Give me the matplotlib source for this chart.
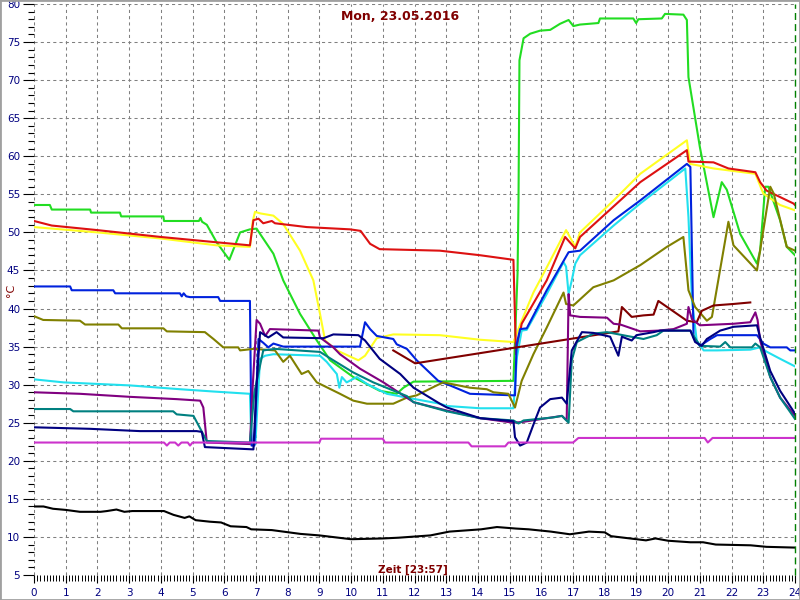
import matplotlib
matplotlib.use("Agg")
import matplotlib.pyplot as plt
from matplotlib.patches import Rectangle
from matplotlib.ticker import MultipleLocator

# hours of the day / temperatures in degC
black_x = [0, 0.3, 0.6, 1.0, 1.45, 2.1, 2.3, 2.6, 2.85, 3.1, 4.1, 4.4, 4.75, 4.9, 5.1, 5.55, 5.9, 6.2, 6.7, 6.85,
           7.5, 8.4, 9.0, 10.0, 11.0, 11.5, 12.5, 13.1, 14.1, 14.6, 15.2, 15.6, 16.3, 16.9, 17.5, 18.0, 18.2, 18.8,
           19.3, 19.6, 20.0, 20.7, 21.1, 21.5, 22.6, 23.1, 24.0]
black_y = [14.0, 14.0, 13.7, 13.55, 13.3, 13.3, 13.4, 13.6, 13.3, 13.4, 13.4, 12.9, 12.5, 12.7, 12.2, 12.0, 11.9,
           11.4, 11.3, 11.0, 10.9, 10.4, 10.2, 9.7, 9.8, 9.9, 10.2, 10.7, 11.0, 11.3, 11.1, 11.0, 10.7, 10.35, 10.7,
           10.6, 10.1, 9.8, 9.55, 9.8, 9.5, 9.3, 9.3, 9.0, 8.9, 8.7, 8.6]

magenta_x = [0, 4.1, 4.19, 4.28, 4.45, 4.55, 4.65, 4.85, 4.92, 5.0, 9.0, 9.05, 11.0, 11.07, 13.7, 13.8, 14.86,
             14.96, 17.0, 17.17, 21.15, 21.25, 21.4, 24]
magenta_y = [22.4, 22.4, 22.0, 22.4, 22.4, 22.0, 22.4, 22.4, 22.0, 22.4, 22.4, 22.9, 22.9, 22.4, 22.4, 21.9, 21.9,
             22.4, 22.4, 23.0, 23.0, 22.4, 23.0, 23.0]

red_x = [0, 0.56, 2.0, 4.0, 5.76, 6.81, 6.92, 7.08, 7.23, 7.5, 7.6, 8.6, 9.97, 10.3, 10.6, 10.9, 12.8, 14.07, 15.12,
         15.2, 15.38, 16.17, 16.75, 17.07, 17.22, 19.12, 20.59, 20.64, 21.43, 21.9, 22.75, 22.9, 23.1, 23.95, 24]
red_y = [51.5, 50.9, 50.3, 49.4, 48.7, 48.3, 51.6, 51.8, 51.2, 51.5, 51.2, 50.7, 50.4, 50.2, 48.5, 47.8, 47.6, 47.0,
         46.4, 34.0, 38.0, 43.7, 49.4, 47.9, 49.4, 56.6, 60.8, 59.3, 59.2, 58.4, 57.9, 56.6, 55.5, 53.8, 53.6]

yellow_x = [0, 2, 4, 5.76, 6.81, 6.9, 6.97, 7.13, 7.55, 7.86, 8.39, 8.81, 9.02, 9.18, 9.55, 10.23, 10.44, 10.81,
            11.33, 12.8, 14.07, 15.12, 15.38, 15.75, 16.17, 16.78, 17.07, 17.22, 18.28, 19.12, 20.59, 20.69, 21.43,
            22.75, 23.0, 23.53, 24]
yellow_y = [50.7, 50.0, 49.2, 48.3, 48.1, 51.5, 52.7, 52.5, 52.2, 51.1, 47.6, 43.7, 39.3, 35.8, 34.5, 33.2, 33.8,
            36.1, 36.6, 36.5, 35.9, 35.6, 38.4, 42.1, 45.4, 50.3, 48.1, 50.0, 54.2, 57.7, 62.1, 59.0, 58.4, 57.7,
            55.1, 53.6, 52.9]

green_x = [0, 0.5, 0.56, 1.77, 1.8, 2.71, 2.75, 4.08, 4.1, 5.2, 5.25, 5.3, 5.45, 5.76, 6.16, 6.5, 6.81, 7.02, 7.13,
           7.55, 7.86, 8.39, 8.92, 9.34, 10.07, 10.9, 11.44, 11.65, 11.97, 15.12, 15.25, 15.28, 15.31, 15.44,
           15.65, 15.96, 16.28, 16.59, 16.86, 17.01, 17.22, 17.8, 17.85, 18.9, 18.99, 19.06, 19.8, 19.9, 20.48,
           20.59, 20.64, 21.0, 21.43, 21.69, 21.85, 22.27, 22.8, 22.9, 23.06, 23.16, 23.53, 23.74, 24]
green_y = [53.6, 53.6, 53.0, 53.0, 52.6, 52.6, 52.1, 52.1, 51.5, 51.5, 51.9, 51.4, 51.0, 48.7, 46.4, 50.0, 50.4,
           50.5, 49.8, 47.2, 43.7, 39.3, 35.8, 33.2, 31.0, 29.2, 28.8, 29.6, 30.4, 30.5, 44.6, 54.2, 72.6, 75.5,
           76.1, 76.5, 76.6, 77.4, 77.9, 77.1, 77.3, 77.5, 78.1, 78.1, 77.5, 78.0, 78.1, 78.7, 78.6, 77.9, 70.4,
           61.2, 52.0, 56.6, 55.6, 49.8, 45.9, 47.6, 56.0, 56.0, 51.6, 48.1, 47.0]

blue_x = [0, 1.14, 1.19, 2.5, 2.56, 4.6, 4.66, 4.72, 4.8, 4.92, 5.81, 5.87, 6.81, 6.86, 6.95, 7.08, 7.23, 7.39,
          7.55, 7.86, 10.28, 10.44, 10.6, 10.81, 11.33, 11.44, 11.76, 12.07, 12.75, 13.12, 13.75, 15.12, 15.17,
          15.22, 15.33, 15.54, 16.17, 16.86, 17.22, 18.28, 19.12, 20.59, 20.7, 20.8, 21.0, 21.33, 21.54, 22.8,
          23.0, 23.22, 23.74, 23.85, 24]
blue_y = [42.9, 42.9, 42.4, 42.4, 42.0, 42.0, 41.6, 42.0, 41.6, 41.5, 41.5, 41.0, 41.0, 22.0, 22.0, 36.0, 35.5,
          34.9, 35.4, 35.0, 35.0, 38.2, 37.3, 36.4, 36.0, 35.3, 34.7, 33.2, 30.5, 29.9, 28.8, 28.6, 28.6, 35.3,
          37.3, 37.4, 42.4, 47.4, 47.6, 51.6, 54.2, 59.0, 58.6, 36.2, 35.1, 36.0, 36.5, 36.5, 35.4, 34.9, 34.9,
          34.5, 34.5]

cyan_x = [0, 0.93, 3.03, 4.61, 5.66, 6.81, 6.86, 6.98, 7.13, 7.29, 7.55, 9.02, 9.23, 9.55, 9.63, 9.71, 9.86, 10.18,
          10.5, 11.13, 11.76, 12.8, 13.02, 14.07, 15.12, 15.23, 15.38, 15.54, 16.17, 16.7, 16.78, 16.86, 16.96,
          17.07, 17.22, 18.28, 19.12, 20.54, 20.64, 20.75, 20.9, 21.12, 21.54, 22.59, 22.9, 23.12, 23.53, 24]
cyan_y = [30.7, 30.3, 29.9, 29.4, 29.1, 28.8, 22.2, 22.2, 33.4, 33.8, 34.0, 33.8, 33.0, 31.4, 29.6, 31.0, 30.3,
          31.0, 30.1, 28.8, 28.3, 27.5, 27.2, 26.9, 26.9, 33.6, 37.1, 37.2, 41.9, 46.1, 45.5, 41.9, 43.7, 45.9,
          47.0, 50.9, 53.8, 58.4, 52.0, 41.1, 35.8, 34.5, 34.5, 34.6, 34.9, 34.3, 33.4, 32.4]

olive_x = [0, 0.29, 1.45, 1.61, 2.66, 2.77, 4.08, 4.19, 5.39, 5.66, 5.97, 6.44, 6.5, 6.92, 7.6, 7.86, 8.07, 8.44,
           8.65, 8.92, 9.65, 10.07, 10.5, 11.33, 11.76, 12.07, 12.7, 12.91, 13.75, 14.28, 14.49, 14.96, 15.17,
           15.38, 15.75, 16.17, 16.7, 16.78, 17.01, 17.64, 18.28, 19.12, 19.96, 20.48, 20.64, 20.85, 21.22, 21.38,
           21.9, 22.06, 22.8, 23.22, 23.33, 23.74, 24]
olive_y = [39.0, 38.5, 38.4, 37.9, 37.9, 37.4, 37.4, 37.0, 36.9, 36.0, 34.9, 34.9, 34.5, 34.7, 34.5, 33.0, 33.8,
           31.4, 31.8, 30.3, 28.8, 27.9, 27.5, 27.5, 28.3, 28.6, 29.9, 30.3, 29.6, 29.4, 29.0, 28.8, 27.0, 30.5,
           34.0, 37.5, 42.1, 40.6, 40.4, 42.8, 43.7, 45.7, 48.1, 49.4, 42.4, 40.2, 38.4, 38.9, 51.4, 48.3, 45.0,
           56.0, 55.1, 48.1, 47.6]

maroon_x = [11.33, 12.02, 18.43, 18.54, 18.85, 19.22, 19.54, 19.69, 20.59, 20.9, 21.06, 21.43, 22.06, 22.59]
maroon_y = [34.5, 32.8, 37.0, 40.2, 38.9, 39.1, 39.2, 41.0, 38.4, 38.2, 39.7, 40.4, 40.6, 40.8]

purple_x = [0, 1.45, 3.03, 4.5, 5.24, 5.34, 5.45, 6.81, 6.9, 7.02, 7.13, 7.29, 7.44, 8.97, 9.02, 9.44, 9.65, 10.28,
            11.02, 11.97, 13.02, 14.07, 15.12, 15.4, 16.65, 16.8, 16.86, 16.91, 17.22, 18.07, 18.28, 18.49, 19.12,
            19.69, 20.17, 20.59, 20.64, 20.75, 21.0, 22.06, 22.59, 22.75, 22.82, 22.9, 23.22, 23.53, 24]
purple_y = [29.0, 28.8, 28.4, 28.1, 27.9, 27.0, 22.4, 22.2, 30.0, 38.5, 38.0, 36.4, 37.3, 37.1, 36.2, 34.9, 34.0,
            32.1, 30.3, 27.7, 26.6, 25.6, 25.0, 25.1, 25.9, 25.3, 41.9, 39.1, 38.9, 38.8, 38.0, 37.9, 37.0, 37.1,
            37.3, 38.0, 40.2, 38.6, 37.8, 38.0, 38.2, 39.5, 38.5, 35.8, 31.0, 28.3, 25.9]

navy_x = [0, 1.77, 3.34, 5.13, 5.29, 5.39, 6.92, 7.02, 7.13, 7.39, 7.65, 7.86, 9.13, 9.44, 10.23, 10.44, 10.9,
          11.55, 11.97, 12.8, 13.02, 14.07, 15.12, 15.17, 15.33, 15.54, 15.8, 15.96, 16.28, 16.65, 16.8, 16.96,
          17.28, 17.64, 18.17, 18.43, 18.54, 18.85, 19.0, 19.54, 19.75, 20.7, 20.85, 21.06, 21.22, 21.64, 22.06,
          22.8, 22.9, 23.22, 23.53, 24]
navy_y = [24.4, 24.2, 23.9, 23.9, 23.8, 21.8, 21.5, 30.0, 36.9, 36.2, 36.9, 36.2, 36.1, 36.6, 36.5, 35.8, 33.4,
          31.4, 29.6, 27.5, 27.0, 25.6, 25.2, 23.1, 22.0, 22.4, 25.3, 27.0, 28.1, 28.3, 27.5, 34.5, 36.9, 36.8,
          36.3, 33.8, 36.3, 35.8, 36.5, 36.9, 37.1, 37.1, 35.6, 35.1, 36.0, 37.1, 37.6, 37.8, 36.2, 31.8, 29.2,
          26.2]

teal_x = [0, 1.14, 1.24, 4.39, 4.5, 5.03, 5.45, 6.81, 6.95, 7.23, 7.6, 9.02, 9.44, 10.07, 10.7, 11.76, 11.97,
          13.02, 14.07, 15.12, 15.28, 15.44, 16.38, 16.65, 16.86, 16.96, 17.12, 17.64, 18.07, 18.7, 19.22, 19.64,
          19.85, 20.7, 21.0, 21.64, 21.8, 21.96, 22.64, 22.75, 22.9, 23.22, 23.53, 24]
teal_y = [26.8, 26.8, 26.5, 26.5, 26.1, 25.9, 22.6, 22.4, 29.0, 34.5, 34.7, 34.3, 33.2, 31.6, 30.3, 28.5, 27.7,
          26.5, 25.6, 25.3, 24.9, 25.3, 25.7, 25.9, 25.0, 33.2, 35.6, 36.7, 36.9, 36.4, 36.0, 36.5, 37.1, 37.1,
          35.1, 35.0, 35.6, 34.9, 34.9, 35.4, 34.9, 31.0, 28.3, 25.5]

x_ticks = list(range(0, 25))
y_ticks = list(range(5, 81, 5))

title_text = "Mon, 23.05.2016"
xlabel_text = "Zeit [23:57]"
ylabel_text = "°C"

series = [
    (green_x, green_y, "#22dd22"),
    (yellow_x, yellow_y, "#ffff22"),
    (red_x, red_y, "#dd1111"),
    (cyan_x, cyan_y, "#22e0ee"),
    (blue_x, blue_y, "#0022dd"),
    (olive_x, olive_y, "#808000"),
    (maroon_x, maroon_y, "#800000"),
    (purple_x, purple_y, "#800080"),
    (teal_x, teal_y, "#008080"),
    (navy_x, navy_y, "#000080"),
    (magenta_x, magenta_y, "#cc33cc"),
    (black_x, black_y, "#000000"),
]

fig = plt.figure(figsize=(8, 6), dpi=100)
fig.patch.set_facecolor("white")
ax = fig.add_axes([34 / 800, 1 - 575 / 600, 761 / 800, 571 / 600])

for xs, ys, c in series:
    ax.plot(xs, ys, color=c, lw=1.5, solid_joinstyle="round")

ax.set_xlim(0, 24)
ax.set_ylim(5, 80)
ax.set_xticks(x_ticks)
ax.set_yticks(y_ticks)
ax.xaxis.set_minor_locator(MultipleLocator(0.1))
ax.yaxis.set_minor_locator(MultipleLocator(1))
ax.grid(True, which="major", color="#808080", linestyle=(0, (3, 3)), lw=0.75)
ax.set_axisbelow(True)
for s in ax.spines.values():
    s.set_visible(False)

ax.tick_params(axis="y", which="major", length=8, width=0.8, pad=2, labelsize=7.5, labelcolor="#000080")
ax.tick_params(axis="y", which="minor", length=4, width=0.8)
ax.tick_params(axis="x", which="major", length=6, width=0.8, pad=3, labelsize=7.5, labelcolor="#000080")
ax.tick_params(axis="x", which="minor", length=4, width=0.7)

# current-time marker
ax.axvline(24, color="#008000", lw=1, linestyle=(0, (5, 3)), clip_on=False, zorder=5)

fig.text(0.5, 1 - 17 / 600, title_text, color="#800000", fontsize=9, fontweight="bold", ha="center", va="center")
fig.text(413 / 800, 1 - 570 / 600, xlabel_text, color="#800000", fontsize=7.5, fontweight="bold",
         ha="center", va="center")
fig.text(11 / 800, 1 - 290 / 600, ylabel_text, color="#800000", fontsize=8, rotation=90,
         ha="center", va="center")

fig.patches.append(Rectangle((0, 0), 1, 1, transform=fig.transFigure, fill=False, ec="#a0a0a0", lw=2))

fig.savefig("out.png", dpi=100)
